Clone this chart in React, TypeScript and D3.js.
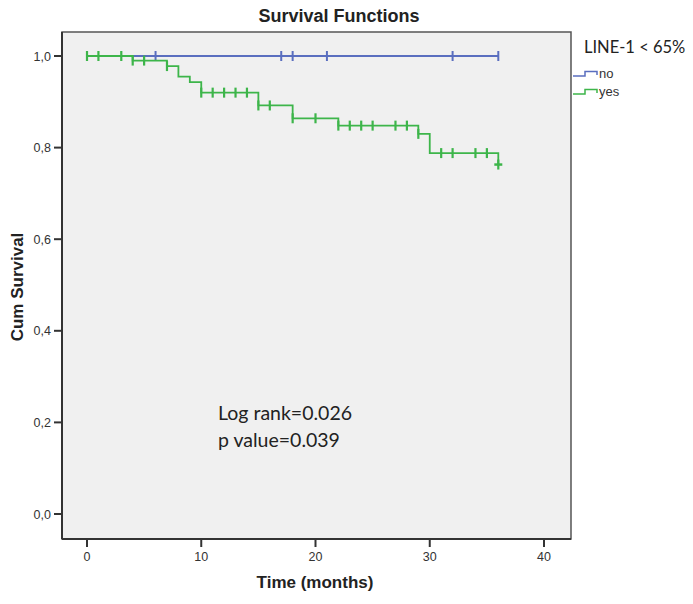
import React from "react";
import * as d3 from "d3";

const xTicks = [0, 10, 20, 30, 40];
const yTicks = [0, 0.2, 0.4, 0.6, 0.8, 1.0];
const yTickLabels = ["0,0", "0,2", "0,4", "0,6", "0,8", "1,0"];

// "no" group (LINE-1 < 65% = no)
const noTimes = [0, 36];
const noSurv = [1, 1];
const noCensored = [6, 17, 18, 21, 32, 36];

// "yes" group
const yesTimes = [0, 4, 7, 8, 9, 10, 15, 18, 22, 29, 30, 36];
const yesSurv = [1, 0.99, 0.978, 0.955, 0.943, 0.92, 0.892, 0.864, 0.848, 0.83, 0.788, 0.763];
const yesCensored = [0, 1, 3, 4, 5, 7, 10, 11, 12, 13, 14, 15, 16, 18, 20, 22, 23, 24, 25, 27, 28, 29, 31, 32, 34, 35, 36];

const BLUE = "#5a6ebf";
const GREEN = "#3db54a";

function survAt(times: number[], surv: number[], t: number) {
  let s = surv[0];
  for (let i = 0; i < times.length; i++) if (times[i] <= t) s = surv[i];
  return s;
}

export default function App() {
  const W = 693, H = 604;
  const x = d3.scaleLinear().domain([0, 40]).range([87, 544]);
  const y = d3.scaleLinear().domain([0, 1]).range([514, 56]);
  const box = { l: 62, r: 571, t: 32, b: 539 };
  const line = d3
    .line<[number, number]>()
    .x((d) => x(d[0]))
    .y((d) => y(d[1]))
    .curve(d3.curveStepAfter);
  const noPts = noTimes.map((t, i) => [t, noSurv[i]] as [number, number]);
  const yesPts = yesTimes.map((t, i) => [t, yesSurv[i]] as [number, number]);
  const font = "Liberation Sans, Arial, sans-serif";
  return (
    <svg width={W} height={H} style={{ position: "absolute", left: 0, top: 0, background: "#fff" }}>
      <rect x={0} y={0} width={W} height={H} fill="#fff" />
      <text x={339} y={22} textAnchor="middle" fontFamily={font} fontWeight="bold" fontSize={18} fill="#222">
        Survival Functions
      </text>
      <rect x={box.l} y={box.t} width={box.r - box.l} height={box.b - box.t} fill="#f0f0f0" stroke="#555" strokeWidth={1.5} />
      <line x1={box.l} x2={box.l} y1={box.t} y2={box.b} stroke="#333" strokeWidth={2} />
      <line x1={box.l} x2={box.r} y1={box.b} y2={box.b} stroke="#333" strokeWidth={2} />
      {yTicks.map((v, i) => (
        <g key={"y" + i}>
          <line x1={box.l - 8} x2={box.l} y1={y(v)} y2={y(v)} stroke="#333" strokeWidth={2} />
          <text x={51} y={y(v) + 4.5} textAnchor="end" fontFamily={font} fontSize={12.5} fill="#333">
            {yTickLabels[i]}
          </text>
        </g>
      ))}
      {xTicks.map((v, i) => (
        <g key={"x" + i}>
          <line x1={x(v)} x2={x(v)} y1={box.b} y2={box.b + 8} stroke="#333" strokeWidth={2} />
          <text x={x(v)} y={561} textAnchor="middle" fontFamily={font} fontSize={12.5} fill="#333">
            {v}
          </text>
        </g>
      ))}
      <text x={315} y={588} textAnchor="middle" fontFamily={font} fontWeight="bold" fontSize={17} fill="#222">
        Time (months)
      </text>
      <text
        transform={`translate(23,${287}) rotate(-90)`}
        textAnchor="middle"
        fontFamily={font}
        fontWeight="bold"
        fontSize={17}
        fill="#222"
      >
        Cum Survival
      </text>
      <path d={line(noPts) || ""} fill="none" stroke={BLUE} strokeWidth={1.8} />
      {noCensored.map((t, i) => (
        <line key={"nc" + i} x1={x(t)} x2={x(t)} y1={y(survAt(noTimes, noSurv, t)) - 5} y2={y(survAt(noTimes, noSurv, t)) + 5} stroke={BLUE} strokeWidth={2} />
      ))}
      <path d={line(yesPts) || ""} fill="none" stroke={GREEN} strokeWidth={1.8} />
      {yesCensored.map((t, i) => (
        <line key={"yc" + i} x1={x(t)} x2={x(t)} y1={y(survAt(yesTimes, yesSurv, t)) - 5} y2={y(survAt(yesTimes, yesSurv, t)) + 5} stroke={GREEN} strokeWidth={2.2} />
      ))}
      <line x1={x(36) - 4} x2={x(36) + 4} y1={y(0.763)} y2={y(0.763)} stroke={GREEN} strokeWidth={2.5} />
      <text x={218} y={420} fontFamily="Lato, Open Sans, sans-serif" fontSize={19.5} fill="#222">
        Log rank=0.026
      </text>
      <text x={218} y={447} fontFamily="Lato, Open Sans, sans-serif" fontSize={19.5} fill="#222">
        p value=0.039
      </text>
      <text x={584} y={53} fontFamily="Lato, Open Sans, sans-serif" fontSize={16.5} fill="#222">
        LINE-1 &lt; 65%
      </text>
      <path d="M573,76 H585 V71.5 H597 V75" fill="none" stroke={BLUE} strokeWidth={1.5} />
      <text x={599} y={78} fontFamily={font} fontSize={13} fill="#333">no</text>
      <path d="M573,94 H585 V89.5 H597 V93" fill="none" stroke={GREEN} strokeWidth={1.5} />
      <text x={599} y={96} fontFamily={font} fontSize={13} fill="#333">yes</text>
    </svg>
  );
}
